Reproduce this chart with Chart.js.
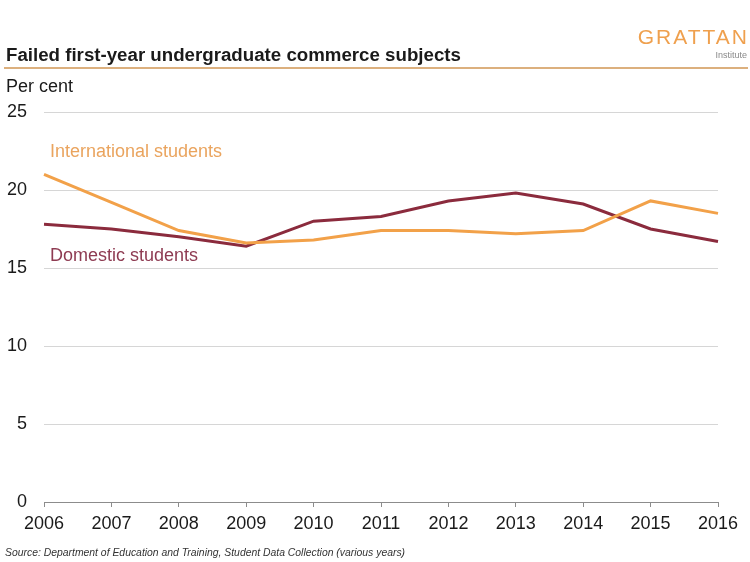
<!DOCTYPE html>
<html lang="en">
<head>
<meta charset="UTF-8">
<title>Failed first-year undergraduate commerce subjects</title>
<script src="https://cdn.jsdelivr.net/npm/chart.js@4.4.0/dist/chart.umd.min.js"></script>
<style>
  * { box-sizing: border-box; margin: 0; padding: 0; }
  body { width: 750px; height: 562px; background: #fff; font-family: "Liberation Sans", Arial, sans-serif; position: relative; overflow: hidden; }
  .abs { position: absolute; white-space: nowrap; line-height: 1; }
  .title { left: 6px; top: 46px; font-size: 18.7px; font-weight: bold; color: #1a1a1a; }
  .rule { position: absolute; left: 4px; top: 67px; width: 744px; height: 2px; background: #dcb07e; }
  .unit { left: 6px; top: 77px; font-size: 18px; color: #1a1a1a; }
  .logo { right: 1px; top: 26px; font-size: 21px; color: #efa04e; letter-spacing: 2px; }
  .inst { right: 3px; top: 51px; font-size: 9px; color: #8a8a8a; }
  .lab { font-size: 18px; }
  .source { left: 5px; top: 548px; font-size: 10.4px; font-style: italic; color: #333; }
  #wrap { position: absolute; left: 0; top: 0; width: 750px; height: 562px; }
</style>
</head>
<body>
<div id="wrap"><canvas id="chart" width="750" height="562"></canvas></div>
<div class="abs title">Failed first-year undergraduate commerce subjects</div>
<div class="rule"></div>
<div class="abs unit">Per cent</div>
<div class="abs logo">GRATTAN</div>
<div class="abs inst">Institute</div>
<div class="abs lab" style="left:50px; top:142px; color:#eaa45e;">International students</div>
<div class="abs lab" style="left:50px; top:246px; color:#8e3b52;">Domestic students</div>
<div class="abs source">Source: Department of Education and Training, Student Data Collection (various years)</div>

<script>
const years = ['2006', '2007', '2008', '2009', '2010', '2011', '2012', '2013', '2014', '2015', '2016'];
const international = [21.0, 19.2, 17.4, 16.6, 16.8, 17.4, 17.4, 17.2, 17.4, 19.3, 18.5];
const domestic = [17.8, 17.5, 17.0, 16.4, 18.0, 18.3, 19.3, 19.8, 19.1, 17.5, 16.7];
const yTicks = [0, 5, 10, 15, 20, 25];

new Chart(document.getElementById('chart'), {
  type: 'line',
  data: {
    labels: years,
    datasets: [
      {
        label: 'International students',
        data: international,
        borderColor: '#f2a149',
        borderWidth: 3,
        pointRadius: 0,
        tension: 0,
      },
      {
        label: 'Domestic students',
        data: domestic,
        borderColor: '#8b2b3d',
        borderWidth: 3,
        pointRadius: 0,
        tension: 0,
      }
    ]
  },
  options: {
    responsive: false,
    animation: false,
    devicePixelRatio: 1,
    layout: { padding: { top: 112, right: 32, left: 0, bottom: 0 } },
    plugins: { legend: { display: false }, tooltip: { enabled: false } },
    scales: {
      x: {
        offset: false,
        grid: { drawOnChartArea: false, drawTicks: true, tickLength: 5, color: '#8c8c8c' },
        border: { display: true, color: '#8c8c8c', width: 1 },
        ticks: { color: '#1a1a1a', font: { size: 18, family: '"Liberation Sans", Arial' }, padding: 6, maxRotation: 0, autoSkip: false },
        afterFit: s => { s.height = 60; },
      },
      y: {
        min: 0,
        max: 25,
        afterBuildTicks: s => { s.ticks = yTicks.map(v => ({ value: v })); },
        grid: { drawTicks: false, color: ctx => ctx.tick && ctx.tick.value === 0 ? '#8c8c8c' : '#d6d6d6', lineWidth: 1 },
        border: { display: false },
        ticks: { color: '#1a1a1a', font: { size: 18, family: '"Liberation Sans", Arial' }, padding: 17 },
        afterFit: s => { s.width = 44; },
      }
    }
  }
});
</script>
</body>
</html>
